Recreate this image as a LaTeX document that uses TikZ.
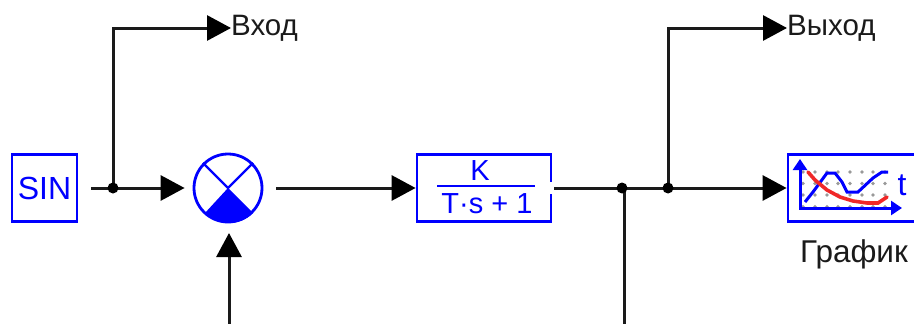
\documentclass[tikz,border=0pt]{standalone}
\usepackage{fontspec}
\setmainfont{Liberation Sans}
\usetikzlibrary{arrows.meta}
\definecolor{pblue}{HTML}{0000FF}
\definecolor{pink}{HTML}{1A1A1A}
\definecolor{pred}{HTML}{F02828}
\tikzset{
  blockbox/.style={draw=pblue,line width=2.8pt,inner sep=0pt,rectangle},
  wire/.style={draw=pink,line width=3pt},
  arrowwire/.style={wire,-{Triangle[length=24pt,width=25pt,fill=black,color=black]}},
  junction/.style={circle,fill=black,inner sep=0pt,minimum size=11pt},
  label/.style={inner sep=0pt,text=pink,font=\fontsize{29.5}{30}\selectfont},
  bluetext/.style={inner sep=0pt,text=pblue,font=\fontsize{29}{29}\selectfont},
}
\begin{document}
\begin{tikzpicture}[x=1pt,y=-1pt]
\useasboundingbox (0,0) rectangle (914,324);
\clip (0,0) rectangle (914,324);
\fill[white] (0,0) rectangle (914,324);
% blocks
\node[blockbox,minimum width=65pt,minimum height=67pt,bluetext,font=\fontsize{32}{32}\selectfont] (sin) at (44.5,188) {SIN};
\node[circle,draw=pblue,line width=2.8pt,inner sep=0pt,minimum size=68pt] (sum) at (228,188) {};
\fill[pblue] (228,188) -- (sum.south east) arc[start angle=-45,end angle=-135,radius=34pt] -- cycle;
\draw[pblue,line width=2.4pt] (sum.north west) -- (sum.center) -- (sum.north east);
\node[blockbox,minimum width=134pt,minimum height=67pt] (tf) at (484,188) {};
\draw[white,line width=4pt] ([yshift=-6pt]tf.east) -- ([yshift=6pt]tf.east);
\node[bluetext] (num) at (480,171) {K};
\node[bluetext] (den) at (487,204) {T·s + 1};
\draw[pblue,line width=2.6pt] (437,186) -- (535,186);
\node[blockbox,minimum width=142pt,minimum height=67pt] (scope) at (859,188) {};
% scope icon
\foreach \yy in {172,183.5,195,206.7} \foreach \xx in {803,815,827,838,850,862,873,885}
  \fill[gray!80] (\xx,\yy) circle[radius=1.8pt];
\draw[pblue,line width=3pt,{Triangle[length=11pt,width=14pt]}-{Triangle[length=11pt,width=14pt]}] (800,159) -- (800,208) -- (902,208);
\draw[pblue,line width=3pt] (805,202) -- (813,192) -- (827,173) -- (835,173) -- (842,182) -- (847,192) -- (858,192) -- (873,178) -- (882,172) -- (888,172);
\draw[pred,line width=3.6pt,line cap=round] (808,172) -- (815,180) -- (827,190) -- (840,197) -- (853,201) -- (867,203) -- (878,203) -- (887,197);
\node[bluetext,font=\fontsize{32}{32}\selectfont] (tlab) at (902,185) {t};
% labels
\node[label,anchor=west] (inp) at (231,28) {Вход};
\node[label,anchor=west] (outp) at (787,28) {Выход};
\node[label,anchor=center,font=\fontsize{31.5}{32}\selectfont] (graph) at (854,254) {График};
% connectors
\coordinate (j1) at (113,188);
\coordinate (j1t) at (113,28);
\coordinate (j2) at (622,188);
\coordinate (j2b) at (624,188);
\coordinate (b2) at (624,330);
\coordinate (j3) at (668,188);
\coordinate (j3t) at (668,28);
\coordinate (fb) at (229,330);
\draw[arrowwire,shorten <=13pt,shorten >=8pt] (sin.east) -- (sum.west);
\draw[arrowwire] (j1) -- (j1t) -- (inp.west);
\draw[arrowwire,shorten <=13pt] (sum.east) -- (tf.west);
\draw[arrowwire,shorten <=2pt] (tf.east) -- (scope.west);
\draw[arrowwire] (j3) -- (j3t) -- (outp.west);
\draw[wire] (j2b) -- (b2);
\draw[arrowwire,shorten >=11pt] (fb) -- (229,222);
\node[junction] (d1) at (j1) {};
\node[junction] (d2) at (j2) {};
\node[junction] (d3) at (j3) {};
\end{tikzpicture}
\end{document}
